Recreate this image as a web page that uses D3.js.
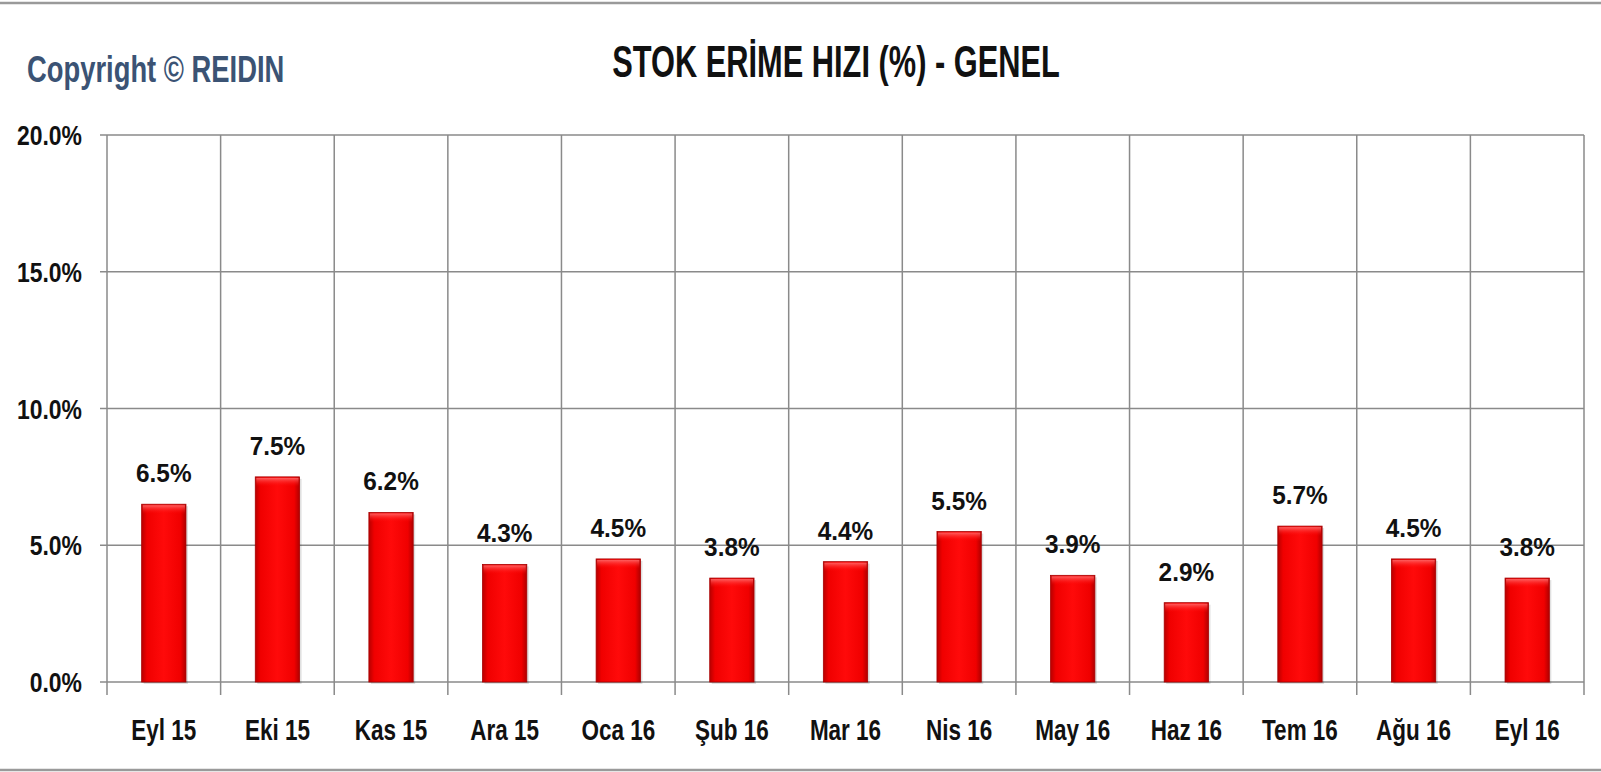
<!DOCTYPE html>
<html>
<head>
<meta charset="utf-8">
<script src="https://cdn.jsdelivr.net/npm/d3@7"></script>
<style>
  body { margin: 0; background: #fff; }
  text { font-family: "Liberation Sans", Arial, sans-serif; font-weight: bold; }
</style>
</head>
<body>
<div id="container"></div>
<script>
let w = 1601;
let h = 772;

// DATA
let months = ["Eyl 15", "Eki 15", "Kas 15", "Ara 15", "Oca 16", "Şub 16", "Mar 16",
              "Nis 16", "May 16", "Haz 16", "Tem 16", "Ağu 16", "Eyl 16"];
let rates = [6.5, 7.5, 6.2, 4.3, 4.5, 3.8, 4.4, 5.5, 3.9, 2.9, 5.7, 4.5, 3.8];
let yTicks = [0, 5, 10, 15, 20];
let titleText = "STOK ERİME HIZI (%) - GENEL";
let copyText = "Copyright © REIDIN";

let plotLeft = 107, plotRight = 1584, plotTop = 135, plotBottom = 682;

let viz = d3.select("#container").append("svg")
    .attr("width", w)
    .attr("height", h)
    .style("display", "block");

// frame lines
viz.append("rect").attr("x", 0).attr("y", 0).attr("width", w).attr("height", h).attr("fill", "#fff");
viz.append("line").attr("x1", 0).attr("x2", w).attr("y1", 3).attr("y2", 3)
    .attr("stroke", "#9a9a9a").attr("stroke-width", 2.5);
viz.append("line").attr("x1", 0).attr("x2", w).attr("y1", 770).attr("y2", 770)
    .attr("stroke", "#9a9a9a").attr("stroke-width", 2.5);

// SCALES
let xScale = d3.scaleBand().domain(months).range([plotLeft, plotRight])
    .paddingInner(0.61).paddingOuter(0.305);
let yScale = d3.scaleLinear().domain([0, 20]).range([plotBottom, plotTop]);

// gradients for bars
let defs = viz.append("defs");
let grad = defs.append("linearGradient").attr("id", "barGrad")
    .attr("x1", "0%").attr("x2", "100%").attr("y1", "0%").attr("y2", "0%");
grad.append("stop").attr("offset", "0%").attr("stop-color", "#b80000");
grad.append("stop").attr("offset", "12%").attr("stop-color", "#f00000");
grad.append("stop").attr("offset", "50%").attr("stop-color", "#ff0a0a");
grad.append("stop").attr("offset", "88%").attr("stop-color", "#f00000");
grad.append("stop").attr("offset", "100%").attr("stop-color", "#b00000");
let topGrad = defs.append("linearGradient").attr("id", "topGrad")
    .attr("x1", "0%").attr("x2", "0%").attr("y1", "0%").attr("y2", "100%");
topGrad.append("stop").attr("offset", "0%").attr("stop-color", "#ff6a6a").attr("stop-opacity", 0.9);
topGrad.append("stop").attr("offset", "100%").attr("stop-color", "#ff0000").attr("stop-opacity", 0);

// GRID
viz.selectAll(".hgrid").data(yTicks).enter()
  .append("line")
    .attr("class", "hgrid")
    .attr("x1", plotLeft - 7).attr("x2", plotRight)
    .attr("y1", d => yScale(d)).attr("y2", d => yScale(d))
    .attr("stroke", "#8a8a8a").attr("stroke-width", 1.5);

let step = xScale.step();
viz.selectAll(".vgrid").data(d3.range(months.length + 1)).enter()
  .append("line")
    .attr("class", "vgrid")
    .attr("x1", i => plotLeft + i * step).attr("x2", i => plotLeft + i * step)
    .attr("y1", plotTop).attr("y2", plotBottom + 13)
    .attr("stroke", "#8a8a8a").attr("stroke-width", 1.5);

// helper: squeezed text (source chart text is horizontally condensed)
function sqText(sel, k) {
  sel.attr("transform", function(d) {
    let t = d3.select(this);
    return "translate(" + t.attr("data-x") + "," + t.attr("data-y") + ") scale(" + k + ",1)";
  });
}

// Y LABELS
viz.selectAll(".ylab").data(yTicks).enter()
  .append("text")
    .attr("class", "ylab")
    .attr("data-x", 82)
    .attr("data-y", d => yScale(d) + 10)
    .attr("text-anchor", "end")
    .attr("font-size", 27)
    .attr("fill", "#111")
    .text(d => d.toFixed(1) + "%")
    .call(sqText, 0.85);

// BARS
let bars = viz.selectAll(".bar").data(rates).enter().append("g").attr("class", "bar");
bars.append("rect")
    .attr("x", (d, i) => xScale(months[i]) + 2)
    .attr("y", d => yScale(d) + 2)
    .attr("width", xScale.bandwidth())
    .attr("height", d => yScale(0) - yScale(d))
    .attr("fill", "#000").attr("opacity", 0.12);
bars.append("rect")
    .attr("x", (d, i) => xScale(months[i]))
    .attr("y", d => yScale(d))
    .attr("width", xScale.bandwidth())
    .attr("height", d => yScale(0) - yScale(d))
    .attr("fill", "url(#barGrad)")
    .attr("stroke", "#a80000").attr("stroke-width", 0.8);
bars.append("rect")
    .attr("x", (d, i) => xScale(months[i]) + 1)
    .attr("y", d => yScale(d) + 1)
    .attr("width", xScale.bandwidth() - 2)
    .attr("height", 9)
    .attr("fill", "url(#topGrad)");

// DATA LABELS
viz.selectAll(".vlab").data(rates).enter()
  .append("text")
    .attr("class", "vlab")
    .attr("data-x", (d, i) => xScale(months[i]) + xScale.bandwidth() / 2)
    .attr("data-y", d => yScale(d) - 22)
    .attr("text-anchor", "middle")
    .attr("font-size", 26.5)
    .attr("fill", "#111")
    .text(d => d.toFixed(1) + "%")
    .call(sqText, 0.92);

// CATEGORY LABELS
viz.selectAll(".xlab").data(months).enter()
  .append("text")
    .attr("class", "xlab")
    .attr("data-x", d => xScale(d) + xScale.bandwidth() / 2)
    .attr("data-y", 740)
    .attr("text-anchor", "middle")
    .attr("font-size", 30)
    .attr("fill", "#111")
    .text(d => d)
    .call(sqText, 0.75);

// TITLE + COPYRIGHT
viz.append("text")
    .attr("data-x", 836).attr("data-y", 77)
    .attr("text-anchor", "middle")
    .attr("font-size", 44)
    .attr("fill", "#111")
    .text(titleText)
    .call(sqText, 0.70);

viz.append("text")
    .attr("data-x", 27).attr("data-y", 82)
    .attr("text-anchor", "start")
    .attr("font-size", 37)
    .attr("fill", "#3b5374")
    .text(copyText)
    .call(sqText, 0.74);
</script>
</body>
</html>
